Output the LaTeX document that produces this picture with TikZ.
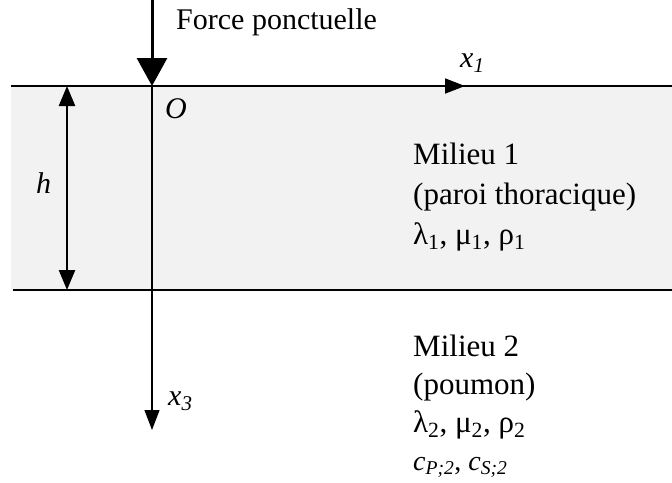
\documentclass[tikz,border=0pt]{standalone}
\usepackage{fontspec}
\setmainfont{Liberation Serif}
\usetikzlibrary{positioning, arrows.meta, calc}
\definecolor{layergray}{RGB}{242, 242, 242}

\tikzset{
    txt/.style={font=\fontsize{31}{40}\selectfont, anchor=base west, inner sep=0pt},
    axtxt/.style={txt, font=\fontsize{30}{36}\selectfont},
    bigtip/.style={-{Triangle[width=30pt, length=28pt]}},
    axtip/.style={-{Triangle[width=15pt, length=20pt]}},
}

\begin{document}
\begin{tikzpicture}[x=1pt, y=-1pt]
\useasboundingbox (0,0) rectangle (672,482);
% couche 1 (paroi)
\fill[layergray] (11,86) rectangle (672,290);
\coordinate (O) at (152,86);
\coordinate (topL) at (11,86);
\coordinate (topR) at (672,86);
\coordinate (x1tip) at (465,86);
\coordinate (botL) at (13,290);
\coordinate (botR) at (672,290);
\coordinate (fstart) at (152,0);
\coordinate (x3tip) at (152,430);
\coordinate (htop) at (67,86);
\coordinate (hbot) at (67,290);
% interfaces et axes
\draw[line width=1.8pt] (topL) -- (topR);
\draw[line width=1.8pt, axtip] (O) -- (x1tip);
\draw[line width=2.4pt] (botL) -- (botR);
\draw[line width=1.1pt, axtip] (O) -- (x3tip);
\draw[line width=3pt, bigtip] (fstart) -- (O);
\draw[line width=2.4pt, {Triangle[width=16pt, length=20pt]}-{Triangle[width=16pt, length=20pt]}] (htop) -- (hbot);
% labels
\node[axtxt] (force) at (176,29) {Force ponctuelle};
\node[axtxt] (lblx1) at (460,67) {\itshape x\textsubscript{1}};
\node[axtxt] (lblO) at (165,118) {\itshape O};
\node[axtxt] (lblh) at (36,193) {\itshape h};
\node[axtxt] (lblx3) at (168,405) {\itshape x\textsubscript{3}};
% milieu 1
\node[txt] (m1a) at (413,164) {Milieu 1};
\node[txt] (m1b) at (413,204) {(paroi thoracique)};
\node[txt] (m1c) at (413,244) {λ\textsubscript{1}, μ\textsubscript{1}, ρ\textsubscript{1}};
% milieu 2
\node[txt] (m2a) at (413,356) {Milieu 2};
\node[txt] (m2b) at (413,394) {(poumon)};
\node[txt] (m2c) at (413,432) {λ\textsubscript{2}, μ\textsubscript{2}, ρ\textsubscript{2}};
\node[txt, font=\fontsize{28}{36}\selectfont] (m2d) at (413,470) {\itshape c\textsubscript{P;2}\upshape, \itshape c\textsubscript{S;2}};
\end{tikzpicture}
\end{document}
